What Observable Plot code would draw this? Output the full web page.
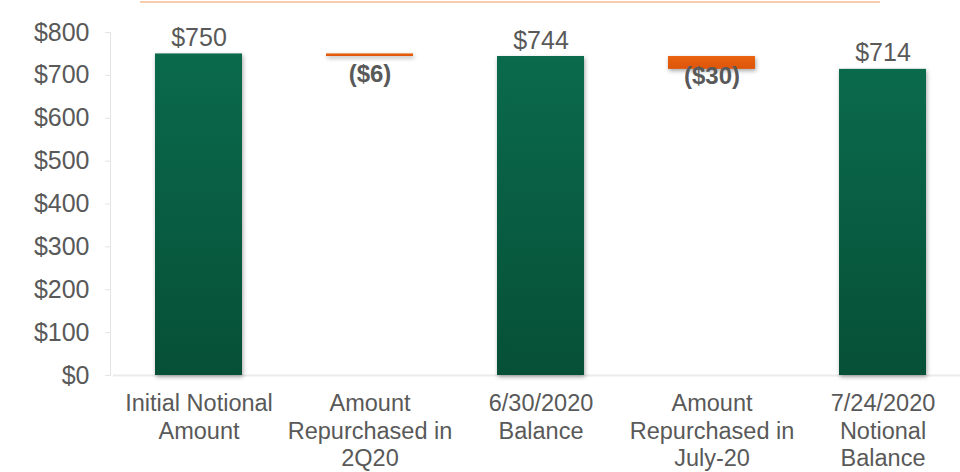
<!DOCTYPE html>
<html><head><meta charset="utf-8">
<script src="https://cdn.jsdelivr.net/npm/d3@7"></script>
<script src="https://cdn.jsdelivr.net/npm/@observablehq/plot@0.6"></script>
<style>
html,body{margin:0;padding:0;background:#fff;}
#wrap{position:relative;width:960px;height:472px;}
#topline{position:absolute;top:1px;left:140px;width:740px;height:2px;background:#f7cdae;}
g[aria-label="bar"] rect{filter:drop-shadow(1px 2px 2px rgba(0,0,0,0.35));}
</style>
</head><body>
<div id="wrap"><div id="topline"></div></div>
<script>
const categories = ["Initial Notional\nAmount", "Amount\nRepurchased in\n2Q20", "6/30/2020\nBalance", "Amount\nRepurchased in\nJuly-20", "7/24/2020\nNotional\nBalance"];
const values = [750, -6, 744, -30, 714];
const kinds = ["total", "delta", "total", "delta", "total"];
const yTicks = [0, 100, 200, 300, 400, 500, 600, 700, 800];

let run = 0;
const rows = categories.map((c, i) => {
  const v = values[i];
  let y1, y2;
  if (kinds[i] === "total") { y1 = 0; y2 = v; run = v; }
  else { y1 = run; y2 = run + v; run = run + v; }
  return {cat: c, value: v, kind: kinds[i], y1, y2, top: Math.max(y1, y2)};
});
const totals = rows.filter(d => d.kind === "total");
const deltas = rows.filter(d => d.kind === "delta");

const defs = () => {
  const ns = "http://www.w3.org/2000/svg";
  const d = document.createElementNS(ns, "defs");
  d.innerHTML = `<linearGradient id="gGreen" x1="0" y1="0" x2="0" y2="1">
    <stop offset="0" stop-color="#0b6a4c"/><stop offset="1" stop-color="#065037"/></linearGradient>
    <linearGradient id="gOrange" x1="0" y1="0" x2="0" y2="1">
    <stop offset="0" stop-color="#e8630f"/><stop offset="1" stop-color="#de550b"/></linearGradient>`;
  return d;
};

const chart = Plot.plot({
  width: 960,
  height: 472,
  marginTop: 32,
  marginBottom: 97,
  marginLeft: 113,
  marginRight: 0,
  style: {fontFamily: "'Liberation Sans', Arial, sans-serif", color: "#595959", background: "transparent"},
  x: {domain: categories, range: [113, 969], paddingInner: 0.49, paddingOuter: 0.245, label: null},
  y: {domain: [0, 800], label: null},
  marks: [
    defs,
    Plot.frame({anchor: "left", stroke: "#e4e4e4", dx: -3}),
    Plot.ruleY([0], {stroke: "#ebebeb", strokeWidth: 2}),
    Plot.axisY({ticks: yTicks, tickFormat: d => "$" + d, tickSize: 5, dx: -3, stroke: "#e4e4e4", tickPadding: 16, fontSize: 25, fill: "#595959", label: null}),
    Plot.axisX({tickSize: 0, tickPadding: 16, fontSize: 23.5, lineHeight: 1.17, fill: "#595959", label: null, textAnchor: "middle"}),
    Plot.barY(rows, {x: "cat", y1: "y1", y2: "y2", fill: d => d.kind === "total" ? "url(#gGreen)" : "url(#gOrange)"}),
    Plot.text(totals, {x: "cat", y: "y2", text: d => "$" + d.value, dy: -16, fontSize: 25, fill: "#595959"}),
    Plot.text(deltas, {x: "cat", y: "top", text: d => "($" + Math.abs(d.value) + ")", dy: 20, fontSize: 24, fontWeight: "bold", fill: "#595959"})
  ]
});
document.getElementById("wrap").appendChild(chart);
</script>
</body></html>
